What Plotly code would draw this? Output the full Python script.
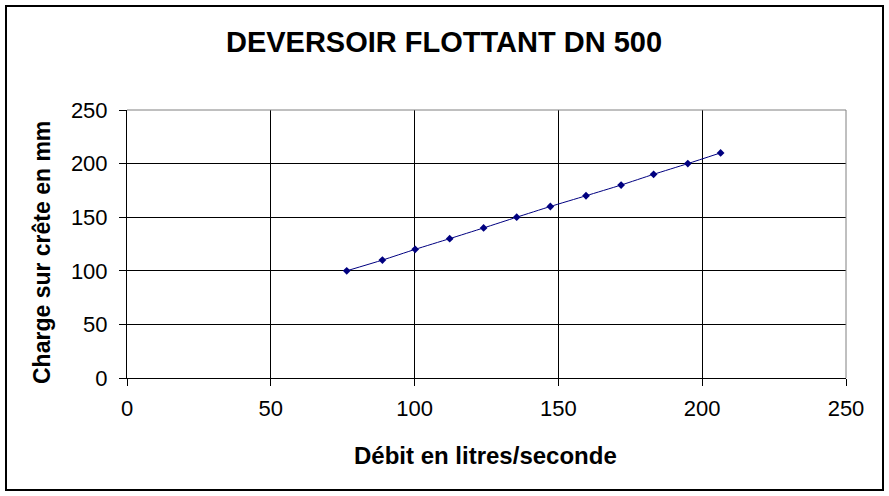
import plotly.graph_objects as go

debit = [76.4, 88.8, 100.2, 112.2, 124.0, 135.5, 147.2, 159.6, 171.8, 183.1, 195.0, 206.4]
charge = [100, 110, 120, 130, 140, 150, 160, 170, 180, 190, 200, 210]
x_ticks = [0, 50, 100, 150, 200, 250]
y_ticks = [0, 50, 100, 150, 200, 250]

title_text = "DEVERSOIR FLOTTANT DN 500"
x_title = "Débit en litres/seconde"
y_title = "Charge sur crête en mm"

FONT = "Liberation Sans, Arial, sans-serif"

fig = go.Figure()
fig.add_trace(go.Scatter(
    x=debit, y=charge, mode="lines+markers",
    line=dict(color="#000080", width=1, shape="spline", smoothing=0.6),
    marker=dict(symbol="diamond", size=6, color="#000080"),
    showlegend=False,
))

L, T, W, H = 127, 110, 889, 496
R, B = 846, 378
pw, ph = R - L, B - T

def px(x):
    return (x - L) / pw

def py(y):
    return (B - y) / ph

axis_common = dict(
    showline=True, linecolor="black", linewidth=1,
    showgrid=True, gridcolor="black", gridwidth=1,
    zeroline=False, ticks="outside", ticklen=7, tickcolor="black",
    tickfont=dict(family=FONT, size=22, color="black"),
    range=[0, 250],
)

fig.update_layout(
    width=W, height=H,
    margin=dict(l=L, r=W - R, t=T, b=H - B),
    paper_bgcolor="white", plot_bgcolor="white",
    title=dict(text=f"<b>{title_text}</b>", x=(223 + 665) / 2 / W, xanchor="center",
               y=1 - 42 / H, yanchor="middle",
               font=dict(family=FONT, size=29, color="black")),
    xaxis=dict(tickvals=x_ticks, ticklabelstandoff=4, **axis_common),
    yaxis=dict(tickvals=y_ticks, ticklabelstandoff=7, **axis_common),
    font=dict(family=FONT, color="black"),
    annotations=[
        dict(text=f"<b>{x_title}</b>", xref="paper", yref="paper",
             x=px(485), y=py(455), xanchor="center", yanchor="middle",
             showarrow=False, font=dict(family=FONT, size=24, color="black")),
        dict(text=f"<b>{y_title}</b>", xref="paper", yref="paper",
             x=px(42), y=py(253), xanchor="center", yanchor="middle",
             textangle=-90,
             showarrow=False, font=dict(family=FONT, size=23, color="black")),
    ],
    shapes=[
        dict(type="rect", xref="paper", yref="paper",
             x0=px(6), x1=px(883), y0=py(490), y1=py(6),
             line=dict(color="black", width=2), layer="below"),
        dict(type="line", xref="paper", yref="paper",
             x0=0, x1=1, y0=1, y1=1, line=dict(color="#808080", width=1)),
        dict(type="line", xref="paper", yref="paper",
             x0=1, x1=1, y0=0, y1=1, line=dict(color="#808080", width=1)),
    ],
)

fig.write_html("out.html", config={"displayModeBar": False},
               post_script="document.body.style.margin='0';document.body.style.overflow='hidden';")
